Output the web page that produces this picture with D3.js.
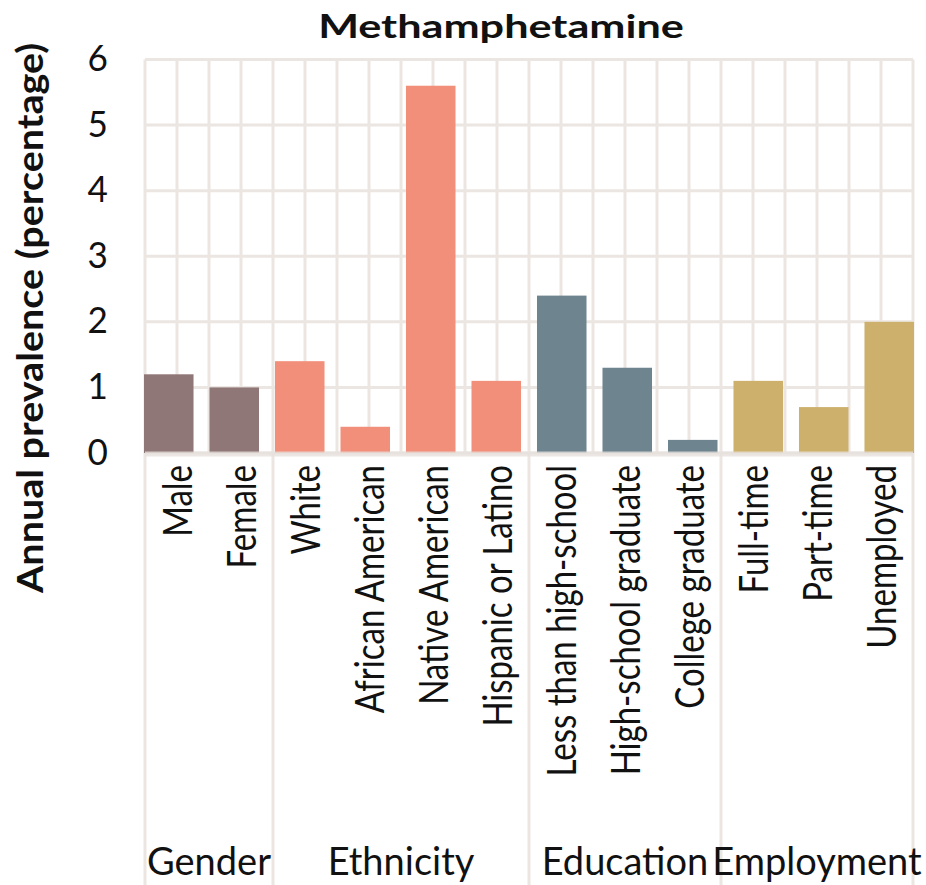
<!DOCTYPE html>
<html>
<head>
<meta charset="utf-8">
<script src="https://cdn.jsdelivr.net/npm/d3@7"></script>
<style>
  html, body { margin: 0; padding: 0; background: #ffffff; }
  svg { display: block; }
</style>
</head>
<body>
<svg id="chart" width="926" height="885"></svg>
<script>
// Annual prevalence of methamphetamine use, by demographic group
const categories = [
  "Male", "Female",
  "White", "African American", "Native American", "Hispanic or Latino",
  "Less than high-school", "High-school graduate", "College graduate",
  "Full-time", "Part-time", "Unemployed"
];
const categoryGroup = [
  "Gender", "Gender",
  "Ethnicity", "Ethnicity", "Ethnicity", "Ethnicity",
  "Education", "Education", "Education",
  "Employment", "Employment", "Employment"
];
const prevalence = [1.2, 1.0, 1.4, 0.4, 5.6, 1.1, 2.4, 1.3, 0.2, 1.1, 0.7, 2.0];
const groupNames = ["Gender", "Ethnicity", "Education", "Employment"];
const groupColors = ["#8f7677", "#f28f7a", "#6e8590", "#ccb06c"];
const yTicks = [0, 1, 2, 3, 4, 5, 6];
const chartTitle = "Methamphetamine";
const yTitle = "Annual prevalence (percentage)";

// ---- layout ----
const W = 926, H = 885;
const plot = { left: 145, right: 913, top: 59.5, bottom: 453 };
const FONT = "Lato, 'Open Sans', sans-serif";
const gridColor = "#ebe6e2";

const svg = d3.select("#chart");

const y = d3.scaleLinear().domain([0, 6]).range([plot.bottom, plot.top]);
// label slots: one equal slot per category across the plot
const xLab = d3.scaleBand().domain(categories).range([plot.left, plot.right]).padding(0);
// bars
const xBar = d3.scaleBand().domain(categories).range([plot.left - 1, plot.right + 1])
  .paddingInner(0.244).paddingOuter(0);
const color = d3.scaleOrdinal().domain(groupNames).range(groupColors);

// ---- gridlines ----
const grid = svg.append("g").attr("class", "grid");
const halfStep = xLab.step() / 2;
const vLines = d3.range(0, categories.length * 2 + 1).map(i => plot.left + i * halfStep);
grid.selectAll("line.v").data(vLines).join("line")
  .attr("class", "v")
  .attr("x1", d => d).attr("x2", d => d)
  .attr("y1", plot.top).attr("y2", plot.bottom)
  .attr("stroke", gridColor).attr("stroke-width", 3);
grid.selectAll("line.h").data(yTicks).join("line")
  .attr("class", "h")
  .attr("x1", plot.left).attr("x2", plot.right)
  .attr("y1", d => y(d)).attr("y2", d => y(d))
  .attr("stroke", gridColor).attr("stroke-width", 3);

// group separators reaching down through the label area
const groupSpans = groupNames.map(g => {
  const idx = categories.map((c, i) => i).filter(i => categoryGroup[i] === g);
  const x0 = xLab(categories[idx[0]]);
  const x1 = xLab(categories[idx[idx.length - 1]]) + xLab.bandwidth();
  return { name: g, x0, x1 };
});
const sepX = [plot.left].concat(groupSpans.map(s => s.x1));
grid.selectAll("line.sep").data(sepX).join("line")
  .attr("class", "sep")
  .attr("x1", d => d).attr("x2", d => d)
  .attr("y1", plot.bottom).attr("y2", H)
  .attr("stroke", gridColor).attr("stroke-width", 3);

// ---- bars ----
const rows = categories.map((c, i) => ({ cat: c, group: categoryGroup[i], value: prevalence[i] }));
svg.append("g").selectAll("rect").data(rows).join("rect")
  .attr("x", d => xBar(d.cat))
  .attr("width", xBar.bandwidth())
  .attr("y", d => y(d.value))
  .attr("height", d => y(0) - y(d.value))
  .attr("fill", d => color(d.group));

// zero line sits over the bar bases
svg.append("line")
  .attr("x1", plot.left).attr("x2", plot.right)
  .attr("y1", y(0) + 1).attr("y2", y(0) + 1)
  .attr("stroke", "#e8e2de").attr("stroke-width", 5).attr("opacity", 0.8);

// ---- text ----
// sx stretches glyphs along the screen's x axis
function hText(parent, x, yy, str, size, weight, anchor, sx) {
  return parent.append("text")
    .attr("transform", `translate(${x},${yy}) scale(${sx},1)`)
    .attr("text-anchor", anchor)
    .attr("font-family", FONT)
    .attr("font-size", size)
    .attr("font-weight", weight)
    .attr("fill", "#111")
    .text(str);
}
function vText(parent, x, yy, str, size, weight, anchor, sx) {
  return parent.append("text")
    .attr("transform", `translate(${x},${yy}) scale(${sx},1) rotate(-90)`)
    .attr("text-anchor", anchor)
    .attr("font-family", FONT)
    .attr("font-size", size)
    .attr("font-weight", weight)
    .attr("fill", "#111")
    .text(str);
}

const txt = svg.append("g");

// title
hText(txt, 501, 38, chartTitle, 32, 700, "middle", 1.35);

// y tick labels
yTicks.forEach(t => hText(txt, 108, y(t) + 11.5, String(t), 37, 400, "end", 0.95));

// y axis title
vText(txt, 43, 318, yTitle, 39.5, 700, "middle", 0.92);

// category labels
const catCap = 29;
categories.forEach(c => {
  vText(txt, xLab(c) + xLab.bandwidth() / 2 + catCap / 2, 465, c, 33, 400, "end", 1.23);
});

// group labels
groupSpans.forEach(s => hText(txt, (s.x0 + s.x1) / 2, 875, s.name, 38, 400, "middle", 1.0));
</script>
</body>
</html>
